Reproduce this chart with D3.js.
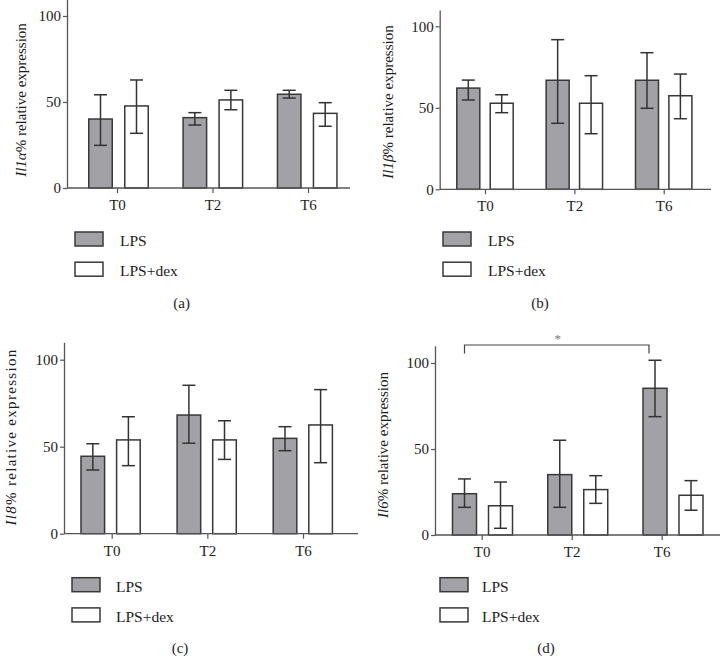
<!DOCTYPE html>
<html><head><meta charset="utf-8">
<script src="https://cdn.jsdelivr.net/npm/d3@7"></script>
<style>
html,body{margin:0;padding:0;background:#fff;}
svg text{font-family:"Liberation Serif","Times New Roman",serif;fill:#1c1c1c;}
</style></head>
<body>
<svg id="chart" width="722" height="656"></svg>
<script>
// ---------- data ----------
const times = ["T0", "T2", "T6"];
const series = ["LPS", "LPS+dex"];
const yTicks = [0, 50, 100];
const panelLetters = ["(a)", "(b)", "(c)", "(d)"];
const genes = ["Il1α", "Il1β", "Il8", "Il6"];

// Il1α
const il1aLPS = [40.1, 40.9, 54.5];
const il1aLPSHi = [54.2, 43.8, 56.8];
const il1aLPSLo = [24.8, 36.6, 52.3];
const il1aDex = [47.7, 51.2, 43.4];
const il1aDexHi = [62.8, 56.8, 49.6];
const il1aDexLo = [31.8, 45.5, 35.9];
// Il1β
const il1bLPS = [62.1, 66.9, 66.9];
const il1bLPSHi = [67.0, 91.8, 83.8];
const il1bLPSLo = [54.8, 40.5, 49.7];
const il1bDex = [52.8, 52.8, 57.4];
const il1bDexHi = [58.0, 69.7, 70.7];
const il1bDexLo = [47.0, 34.1, 43.3];
// Il8
const il8LPS = [44.5, 68.2, 54.8];
const il8LPSHi = [51.7, 85.3, 61.5];
const il8LPSLo = [36.6, 52.0, 47.7];
const il8Dex = [53.9, 53.9, 62.5];
const il8DexHi = [67.2, 64.9, 82.8];
const il8DexLo = [39.1, 42.7, 40.8];
// Il6
const il6LPS = [24.0, 35.1, 85.3];
const il6LPSHi = [32.6, 55.1, 101.6];
const il6LPSLo = [16.1, 16.1, 68.8];
const il6Dex = [17.0, 26.4, 23.1];
const il6DexHi = [30.8, 34.5, 31.6];
const il6DexLo = [3.9, 18.4, 14.4];

// significance (panel d)
const sigFrom = ["T0", "LPS"];
const sigTo = ["T6", "LPS"];
const sigLabel = "*";

// ---------- layout ----------
const layouts = [
  {L: 67, R: 350, y0: 188, k: 1.72, bar: [118.5, 307.2], tick: [117, 308], off: 18, bw: 23.5,
   yl: [21, 100], leg: [75, 232, 120], title: [181.7, 308], ls: 0},
  {L: 439.7, R: 711, y0: 189.3, k: 1.63, bar: [485, 663.7], tick: [485, 663.7], off: 16.7, bw: 23,
   yl: [388, 102], leg: [443, 232, 488], title: [540, 308], ls: 0},
  {L: 64, R: 358, y0: 533.7, k: 1.74, bar: [110.6, 302.8], tick: [111.7, 303], off: 17.8, bw: 23.6,
   yl: [11, 437], leg: [72, 577.7, 116], title: [180, 653], ls: 1.3},
  {L: 435, R: 720, y0: 535, k: 1.72, bar: [482.5, 673], tick: [481.7, 661.7], off: 18, bw: 24,
   yl: [383, 445], leg: [440, 577.7, 482], title: [546, 653], ls: 0}
];

const panels = [
  {lps: il1aLPS, lpsHi: il1aLPSHi, lpsLo: il1aLPSLo, dex: il1aDex, dexHi: il1aDexHi, dexLo: il1aDexLo},
  {lps: il1bLPS, lpsHi: il1bLPSHi, lpsLo: il1bLPSLo, dex: il1bDex, dexHi: il1bDexHi, dexLo: il1bDexLo},
  {lps: il8LPS, lpsHi: il8LPSHi, lpsLo: il8LPSLo, dex: il8Dex, dexHi: il8DexHi, dexLo: il8DexLo},
  {lps: il6LPS, lpsHi: il6LPSHi, lpsLo: il6LPSLo, dex: il6Dex, dexHi: il6DexHi, dexLo: il6DexLo}
];

const fillColor = {"LPS": "#a2a2a6", "LPS+dex": "#ffffff"};
const strokeColor = "#383838";
const axisColor = "#555";

const svg = d3.select("#chart");

panels.forEach((p, pi) => {
  const lay = layouts[pi];
  const g = svg.append("g");
  const y = d3.scaleLinear().domain([0, 110]).range([lay.y0, lay.y0 - 110 * lay.k]);
  const xBar = d3.scalePoint().domain(times).range(lay.bar);
  const xTick = d3.scalePoint().domain(times).range(lay.tick);
  const pin = 1 - lay.bw / (2 * lay.off);
  const inner = d3.scaleBand().domain(series)
    .range([-(lay.off + lay.bw / 2), lay.off + lay.bw / 2]).paddingInner(pin).paddingOuter(0);

  const rows = [];
  times.forEach((t, i) => {
    rows.push({t, s: "LPS", v: p.lps[i], hi: p.lpsHi[i], lo: p.lpsLo[i]});
    rows.push({t, s: "LPS+dex", v: p.dex[i], hi: p.dexHi[i], lo: p.dexLo[i]});
  });

  // bars
  g.selectAll("rect.bar").data(rows).join("rect")
    .attr("class", "bar")
    .attr("x", d => xBar(d.t) + inner(d.s))
    .attr("width", inner.bandwidth())
    .attr("y", d => y(d.v))
    .attr("height", d => y(0) - y(d.v))
    .attr("fill", d => fillColor[d.s])
    .attr("stroke", strokeColor)
    .attr("stroke-width", 1.5);

  // error bars
  const cap = 6.5;
  const eb = g.selectAll("g.err").data(rows).join("g").attr("class", "err")
    .attr("stroke", "#333").attr("stroke-width", 1.5).attr("fill", "none");
  const cx = d => xBar(d.t) + inner(d.s) + inner.bandwidth() / 2;
  eb.append("line").attr("x1", cx).attr("x2", cx).attr("y1", d => y(d.lo)).attr("y2", d => y(d.hi));
  eb.append("line").attr("x1", d => cx(d) - cap).attr("x2", d => cx(d) + cap)
    .attr("y1", d => y(d.hi)).attr("y2", d => y(d.hi));
  eb.append("line").attr("x1", d => cx(d) - cap).attr("x2", d => cx(d) + cap)
    .attr("y1", d => y(d.lo)).attr("y2", d => y(d.lo));

  // y axis
  const ya = g.append("g").attr("transform", `translate(${lay.L},0)`)
    .call(d3.axisLeft(y).tickValues(yTicks).tickSize(4).tickPadding(2).tickSizeOuter(0));
  ya.select(".domain").attr("stroke", axisColor).attr("stroke-width", 1.3);
  ya.selectAll(".tick line").attr("stroke", axisColor).attr("stroke-width", 1.2);
  ya.selectAll(".tick text").attr("font-size", 15)
    .style("font-family", '"Liberation Serif", serif');

  // x axis
  const xa = g.append("g").attr("transform", `translate(0,${lay.y0})`)
    .call(d3.axisBottom(xTick).tickSize(5).tickPadding(6.4));
  xa.select(".domain").remove();
  xa.selectAll(".tick line").attr("stroke", axisColor).attr("stroke-width", 1.2);
  xa.selectAll(".tick text").attr("font-size", 15)
    .style("font-family", '"Liberation Serif", serif');
  g.append("line").attr("x1", lay.L).attr("x2", lay.R).attr("y1", lay.y0).attr("y2", lay.y0)
    .attr("stroke", axisColor).attr("stroke-width", 1.3);

  // y label
  const yl = g.append("text")
    .attr("transform", `translate(${lay.yl[0]},${lay.yl[1]}) rotate(-90)`)
    .attr("text-anchor", "middle").attr("dominant-baseline", "central")
    .attr("font-size", 15).style("letter-spacing", lay.ls + "px");
  yl.append("tspan").attr("font-style", "italic").text(genes[pi]);
  yl.append("tspan").text(pi === 2 ? "%  relative expression" : "% relative expression");

  // legend
  series.forEach((s, si) => {
    const ly = lay.leg[1] + si * 30.2;
    g.append("rect").attr("x", lay.leg[0]).attr("y", ly).attr("width", 28).attr("height", 14)
      .attr("fill", fillColor[s]).attr("stroke", strokeColor).attr("stroke-width", 1.5);
    g.append("text").attr("x", lay.leg[2]).attr("y", ly + 14).attr("font-size", 15.5).text(s);
  });

  // panel letter
  g.append("text").attr("x", lay.title[0]).attr("y", lay.title[1])
    .attr("text-anchor", "middle").attr("font-size", 15).text(panelLetters[pi]);

  // significance bracket
  if (pi === 3) {
    const x1 = xBar(sigFrom[0]) + inner(sigFrom[1]) + inner.bandwidth() / 2;
    const x2 = xBar(sigTo[0]) + inner(sigTo[1]) + inner.bandwidth() / 2 - 6;
    const by = y(110) - 0.8;
    g.append("path")
      .attr("d", `M${x1},${by + 8.5}V${by}H${x2}V${by + 8.5}`)
      .attr("fill", "none").attr("stroke", "#444").attr("stroke-width", 1.2);
    g.append("text").attr("x", (x1 + x2) / 2 + 1).attr("y", by - 2)
      .attr("text-anchor", "middle").attr("font-size", 13).style("fill", "#777").text(sigLabel);
  }
});
</script>
</body></html>
